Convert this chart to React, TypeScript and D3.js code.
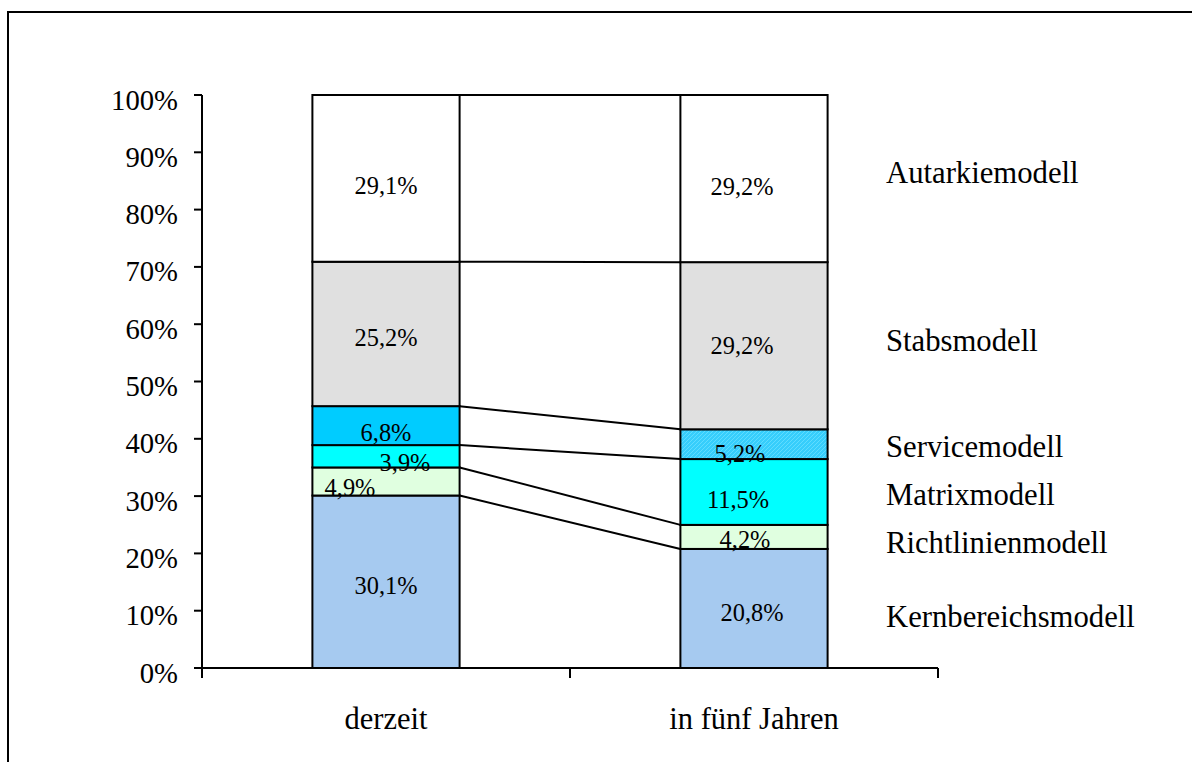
import React from "react";
import * as d3 from "d3";

const categories = ["derzeit", "in fünf Jahren"];
const seriesNames = [
  "Kernbereichsmodell",
  "Richtlinienmodell",
  "Matrixmodell",
  "Servicemodell",
  "Stabsmodell",
  "Autarkiemodell",
];
const valuesDerzeit = [30.1, 4.9, 3.9, 6.8, 25.2, 29.1];
const valuesFuenfJahre = [20.8, 4.2, 11.5, 5.2, 29.2, 29.2];
const yTicks = [0, 10, 20, 30, 40, 50, 60, 70, 80, 90, 100];

const seriesColors = ["#a6caf0", "#e0ffe0", "#00ffff", "#00ccff", "#e0e0e0", "#ffffff"];
// label nudges [dx, dyBaseline] relative to segment center, per category
const labelNudges = [
  [[0, 12], [-36, 15], [19, 15], [0, 15], [0, 12.5], [0, 16]],
  [[-2, 13], [-9, 11], [-16, 16], [-14, 18], [-12, 8], [-12, 16]],
];
const legendNudges = [19, 16, 13, 13, 5, 4];

const FONT = "'Liberation Serif', 'Times New Roman', serif";

export default function App() {
  const W = 1192;
  const H = 762;
  const left = 202;
  const right = 938;
  const top = 95;
  const bottom = 668;

  const data = [valuesDerzeit, valuesFuenfJahre];
  const y = d3.scaleLinear().domain([0, 100]).range([bottom, top]);
  const x = d3
    .scaleBand<string>()
    .domain(categories)
    .range([left, right])
    .paddingInner(0.6)
    .paddingOuter(0.3);
  const bw = x.bandwidth();
  const step = x.step();

  // normalized stacks (100% stacked)
  const stacks = data.map((vals) => {
    const total = d3.sum(vals);
    let acc = 0;
    return vals.map((v) => {
      const y0 = (acc / total) * 100;
      acc += v;
      const y1 = (acc / total) * 100;
      return { v, y0, y1 };
    });
  });

  const fmt = (v: number) => v.toFixed(1).replace(".", ",") + "%";
  const bandEdges = [left, left + step, right];

  return (
    <svg
      width={W}
      height={H}
      style={{ position: "absolute", left: 0, top: 0, background: "#fff" }}
      fontFamily={FONT}
    >
      <defs>
        <pattern id="hatch" width="4" height="4" patternUnits="userSpaceOnUse">
          <rect width="4" height="4" fill="#36cefc" />
          <path d="M0,4 L4,0 M-1,1 L1,-1 M3,5 L5,3" stroke="#5fdcff" strokeWidth="1" />
        </pattern>
      </defs>
      <rect x={0} y={0} width={W} height={H} fill="#fff" />
      {/* outer frame */}
      <rect x={8} y={12} width={1300} height={900} fill="none" stroke="#000" strokeWidth={2} />

      {/* bars */}
      {categories.map((c, ci) =>
        stacks[ci].map((s, si) => (
          <rect
            key={c + si}
            x={x(c)!}
            y={y(s.y1)}
            width={bw}
            height={y(s.y0) - y(s.y1)}
            fill={ci === 1 && si === 3 ? "url(#hatch)" : seriesColors[si]}
            stroke="#000"
            strokeWidth={2}
          />
        ))
      )}

      {/* series lines */}
      {seriesNames.map((n, si) => (
        <line
          key={"sl" + n}
          x1={x(categories[0])! + bw}
          y1={y(stacks[0][si].y1)}
          x2={x(categories[1])!}
          y2={y(stacks[1][si].y1)}
          stroke="#000"
          strokeWidth={2}
        />
      ))}

      {/* data labels */}
      {categories.map((c, ci) =>
        stacks[ci].map((s, si) => (
          <text
            key={"dl" + c + si}
            x={x(c)! + bw / 2 + labelNudges[ci][si][0]}
            y={y((s.y0 + s.y1) / 2) + labelNudges[ci][si][1]}
            textAnchor="middle"
            fontSize={24.4}
            fill="#000"
          >
            {fmt(s.v)}
          </text>
        ))
      )}

      {/* y axis */}
      <line x1={left} y1={top} x2={left} y2={bottom} stroke="#000" strokeWidth={2} />
      {yTicks.map((t) => (
        <g key={"yt" + t}>
          <line x1={left - 8} y1={y(t)} x2={left} y2={y(t)} stroke="#000" strokeWidth={2} />
          <text x={178} y={y(t) + 14.5} textAnchor="end" fontSize={28.7} fill="#000">
            {t + "%"}
          </text>
        </g>
      ))}

      {/* x axis */}
      <line x1={left} y1={bottom} x2={right} y2={bottom} stroke="#000" strokeWidth={2} />
      {bandEdges.map((e, i) => (
        <line key={"xt" + i} x1={e} y1={bottom} x2={e} y2={bottom + 10} stroke="#000" strokeWidth={2} />
      ))}
      {categories.map((c) => (
        <text
          key={"cl" + c}
          x={x(c)! + bw / 2}
          y={729}
          textAnchor="middle"
          fontSize={30.5}
          fill="#000"
        >
          {c}
        </text>
      ))}

      {/* legend / series names */}
      {seriesNames.map((n, si) => {
        const s = stacks[1][si];
        return (
          <text
            key={"lg" + n}
            x={886}
            y={y((s.y0 + s.y1) / 2) + legendNudges[si]}
            fontSize={30.7}
            fill="#000"
          >
            {n}
          </text>
        );
      })}
    </svg>
  );
}
